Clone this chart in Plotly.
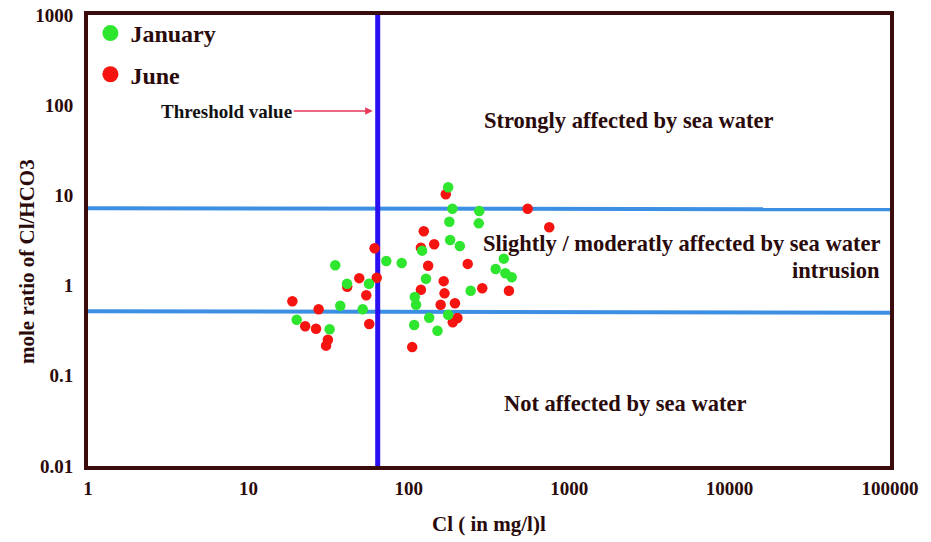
import math
import plotly.graph_objects as go

# Chloride (mg/l) and Cl/HCO3 mole ratio, January campaign
jan_cl = [176, 187, 275, 179, 273, 181, 208, 121, 34.8, 72.4, 90.3, 391, 348, 400, 438,
          128, 41.2, 56.5, 243, 109, 111, 37.4, 51.6, 176, 134, 20.0, 32.1, 108, 151]
jan_ratio = [12.3, 7.1, 6.7, 5.1, 4.9, 3.2, 2.75, 2.44, 1.68, 1.87, 1.78, 1.99, 1.53, 1.37, 1.24,
             1.19, 1.05, 1.05, 0.877, 0.748, 0.614, 0.598, 0.546, 0.475, 0.440, 0.419, 0.328, 0.366, 0.316]

# Chloride (mg/l) and Cl/HCO3 mole ratio, June campaign
jun_cl = [170, 551, 751, 124, 144, 119, 61.2, 233, 132, 49.1, 63.1, 41.3, 165, 54.3, 119,
          167, 287, 421, 18.8, 158, 194, 27.4, 22.6, 26.4, 56.7, 201, 188, 31.3, 30.5, 105]
jun_ratio = [10.3, 7.1, 4.43, 4.0, 2.87, 2.63, 2.59, 1.74, 1.66, 1.21, 1.22, 0.972, 1.12, 0.78, 0.90,
             0.82, 0.933, 0.877, 0.67, 0.614, 0.637, 0.546, 0.354, 0.333, 0.375, 0.437, 0.392, 0.251, 0.216, 0.208]

x_ticks = [1, 10, 100, 1000, 10000, 100000]
x_tick_text = ["1", "10", "100", "1000", "10000", "100000"]
y_ticks = [0.01, 0.1, 1, 10, 100, 1000]
y_tick_text = ["0.01", "0.1", "1", "10", "100", "1000"]

THRESHOLD_CL = 64          # chloride threshold value (mg/l)
UPPER_RATIO = [7.2, 7.0]   # strongly / moderately boundary (left, right end)
LOWER_RATIO = [0.52, 0.50] # moderately / not affected boundary (left, right end)

FONT = "Liberation Serif"
TEXT = "#2a0a0a"
FRAME = "#3a0c0c"
GREEN = "#2ee62e"
RED = "#f5140f"

fig = go.Figure()

# zone boundaries
fig.add_trace(go.Scatter(x=[1, 100000], y=UPPER_RATIO, mode="lines",
                         line=dict(color="#3d8fe3", width=4), showlegend=False, hoverinfo="skip"))
fig.add_trace(go.Scatter(x=[1, 100000], y=LOWER_RATIO, mode="lines",
                         line=dict(color="#3d8fe3", width=4), showlegend=False, hoverinfo="skip"))
# chloride threshold
fig.add_trace(go.Scatter(x=[THRESHOLD_CL, THRESHOLD_CL], y=[0.01, 1000], mode="lines",
                         line=dict(color="#2a0ff2", width=5), showlegend=False, hoverinfo="skip"))

# samples
fig.add_trace(go.Scatter(x=jun_cl, y=jun_ratio, mode="markers", name="June",
                         marker=dict(color=RED, size=10.5), showlegend=False))
fig.add_trace(go.Scatter(x=jan_cl, y=jan_ratio, mode="markers", name="January",
                         marker=dict(color=GREEN, size=10.5), showlegend=False))

# legend entries
fig.add_trace(go.Scatter(x=[None], y=[None], mode="markers", name="January",
                         marker=dict(color=GREEN, size=16), legendgroup="jan"))
fig.add_trace(go.Scatter(x=[None], y=[None], mode="markers", name="June",
                         marker=dict(color=RED, size=16), legendgroup="jun"))

axis_common = dict(
    type="log", showgrid=False, zeroline=False, ticks="", automargin=False,
    showline=True, mirror=True, linewidth=4, linecolor=FRAME,
    tickfont=dict(family=FONT, size=19, color=TEXT, weight="bold"),
)

fig.update_xaxes(range=[0, 5], tickvals=x_ticks, ticktext=x_tick_text,
                 ticklabelstandoff=2, **axis_common)
fig.update_yaxes(range=[-2, 3], tickvals=y_ticks, ticktext=y_tick_text,
                 ticklabelstandoff=7, **axis_common)

W, H = 931, 542
L, R, T, B = 88, 41, 15, 76
PW, PH = W - L - R, H - T - B


def px(x):
    return (x - L) / PW


def py(y):
    return (H - B - y) / PH


zone_font = dict(family=FONT, size=22.5, color=TEXT, weight="bold")
annotations = [
    dict(text="Strongly affected by sea water", x=px(629), y=py(121),
         xanchor="center", yanchor="middle", font=zone_font),
    dict(text="Slightly / moderatly affected by sea water", x=px(882), y=py(243),
         xanchor="right", yanchor="middle", font=zone_font),
    dict(text="intrusion", x=px(882), y=py(270),
         xanchor="right", yanchor="middle", font=zone_font),
    dict(text="Not affected by sea water", x=px(625), y=py(403),
         xanchor="center", yanchor="middle", font=zone_font),
    dict(text="Cl ( in mg/l)l", x=0.5, y=py(524), xanchor="center", yanchor="middle",
         font=dict(family=FONT, size=21, color=TEXT, weight="bold")),
    dict(text="mole ratio of Cl/HCO3", x=px(27), y=py(262), textangle=-90,
         xanchor="center", yanchor="middle",
         font=dict(family=FONT, size=21, color=TEXT, weight="bold")),
]
for a in annotations:
    a.update(xref="paper", yref="paper", showarrow=False)

annotations.append(dict(
    text="Threshold value", xref="x", yref="paper",
    x=math.log10(THRESHOLD_CL), y=py(111),
    showarrow=True, ax=-151, ay=0, axref="pixel", ayref="pixel",
    arrowhead=2, arrowsize=1, arrowwidth=1.5, arrowcolor="#e8385a", standoff=5,
    font=dict(family=FONT, size=19, color="#111111", weight="bold"),
))

fig.update_layout(
    width=W, height=H,
    margin=dict(l=L, r=R, t=T, b=B, autoexpand=False),
    paper_bgcolor="white", plot_bgcolor="white",
    annotations=annotations,
    legend=dict(x=0.003, y=1.009, xanchor="left", yanchor="top",
                bgcolor="rgba(0,0,0,0)", tracegroupgap=7,
                font=dict(family=FONT, size=24, color=TEXT, weight="bold")),
)

fig.write_html("out.html")
